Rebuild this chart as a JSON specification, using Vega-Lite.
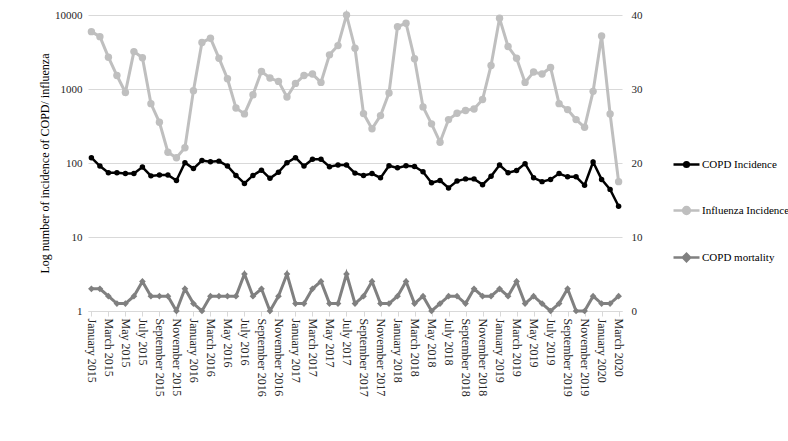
{
  "$schema": "https://vega.github.io/schema/vega-lite/v6.json",
  "width": 534,
  "height": 296,
  "autosize": "none",
  "padding": {"left": 88, "top": 15, "right": 166, "bottom": 130},
  "background": "white",
  "config": {
    "font": "Liberation Serif",
    "view": {"stroke": null},
    "legend": {"labelFont": "Liberation Serif", "labelFontSize": 11, "labelColor": "#000000"},
    "text": {"font": "Liberation Serif"}
  },
  "data": {"values": [
    {"month": "January 2015", "copd": 118, "influenza": 5960, "mortality": 3},
    {"month": "February 2015", "copd": 91, "influenza": 5100, "mortality": 3},
    {"month": "March 2015", "copd": 74, "influenza": 2690, "mortality": 2},
    {"month": "April 2015", "copd": 74, "influenza": 1520, "mortality": 1},
    {"month": "May 2015", "copd": 72, "influenza": 900, "mortality": 1},
    {"month": "June 2015", "copd": 72, "influenza": 3200, "mortality": 2},
    {"month": "July 2015", "copd": 88, "influenza": 2650, "mortality": 4},
    {"month": "August 2015", "copd": 67, "influenza": 634, "mortality": 2},
    {"month": "September 2015", "copd": 69, "influenza": 355, "mortality": 2},
    {"month": "October 2015", "copd": 69, "influenza": 140, "mortality": 2},
    {"month": "November 2015", "copd": 58, "influenza": 118, "mortality": 0},
    {"month": "December 2015", "copd": 101, "influenza": 161, "mortality": 3},
    {"month": "January 2016", "copd": 84, "influenza": 950, "mortality": 1},
    {"month": "February 2016", "copd": 108, "influenza": 4240, "mortality": 0},
    {"month": "March 2016", "copd": 104, "influenza": 4860, "mortality": 2},
    {"month": "April 2016", "copd": 106, "influenza": 2610, "mortality": 2},
    {"month": "May 2016", "copd": 91, "influenza": 1376, "mortality": 2},
    {"month": "June 2016", "copd": 68, "influenza": 555, "mortality": 2},
    {"month": "July 2016", "copd": 53, "influenza": 461, "mortality": 5},
    {"month": "August 2016", "copd": 68, "influenza": 838, "mortality": 2},
    {"month": "September 2016", "copd": 80, "influenza": 1725, "mortality": 3},
    {"month": "October 2016", "copd": 62, "influenza": 1406, "mortality": 0},
    {"month": "November 2016", "copd": 75, "influenza": 1267, "mortality": 2},
    {"month": "December 2016", "copd": 101, "influenza": 780, "mortality": 5},
    {"month": "January 2017", "copd": 118, "influenza": 1190, "mortality": 1},
    {"month": "February 2017", "copd": 91, "influenza": 1520, "mortality": 1},
    {"month": "March 2017", "copd": 112, "influenza": 1592, "mortality": 3},
    {"month": "April 2017", "copd": 112, "influenza": 1228, "mortality": 4},
    {"month": "May 2017", "copd": 89, "influenza": 2895, "mortality": 1},
    {"month": "June 2017", "copd": 94, "influenza": 3860, "mortality": 1},
    {"month": "July 2017", "copd": 94, "influenza": 10000, "mortality": 5},
    {"month": "August 2017", "copd": 73, "influenza": 3560, "mortality": 1},
    {"month": "September 2017", "copd": 68, "influenza": 465, "mortality": 2},
    {"month": "October 2017", "copd": 72, "influenza": 290, "mortality": 4},
    {"month": "November 2017", "copd": 63, "influenza": 437, "mortality": 1},
    {"month": "December 2017", "copd": 92, "influenza": 884, "mortality": 1},
    {"month": "January 2018", "copd": 86, "influenza": 6960, "mortality": 2},
    {"month": "February 2018", "copd": 92, "influenza": 7730, "mortality": 4},
    {"month": "March 2018", "copd": 90, "influenza": 2560, "mortality": 1},
    {"month": "April 2018", "copd": 76, "influenza": 573, "mortality": 2},
    {"month": "May 2018", "copd": 54, "influenza": 338, "mortality": 0},
    {"month": "June 2018", "copd": 58, "influenza": 191, "mortality": 1},
    {"month": "July 2018", "copd": 46, "influenza": 386, "mortality": 2},
    {"month": "August 2018", "copd": 57, "influenza": 470, "mortality": 2},
    {"month": "September 2018", "copd": 61, "influenza": 511, "mortality": 1},
    {"month": "October 2018", "copd": 61, "influenza": 538, "mortality": 3},
    {"month": "November 2018", "copd": 51, "influenza": 720, "mortality": 2},
    {"month": "December 2018", "copd": 66, "influenza": 2080, "mortality": 2},
    {"month": "January 2019", "copd": 94, "influenza": 9020, "mortality": 3},
    {"month": "February 2019", "copd": 74, "influenza": 3750, "mortality": 2},
    {"month": "March 2019", "copd": 79, "influenza": 2610, "mortality": 4},
    {"month": "April 2019", "copd": 98, "influenza": 1228, "mortality": 1},
    {"month": "May 2019", "copd": 63, "influenza": 1694, "mortality": 2},
    {"month": "June 2019", "copd": 56, "influenza": 1592, "mortality": 1},
    {"month": "July 2019", "copd": 60, "influenza": 1955, "mortality": 0},
    {"month": "August 2019", "copd": 72, "influenza": 634, "mortality": 1},
    {"month": "September 2019", "copd": 65, "influenza": 527, "mortality": 3},
    {"month": "October 2019", "copd": 65, "influenza": 386, "mortality": 0},
    {"month": "November 2019", "copd": 50, "influenza": 304, "mortality": 0},
    {"month": "December 2019", "copd": 103, "influenza": 929, "mortality": 2},
    {"month": "January 2020", "copd": 60, "influenza": 5215, "mortality": 1},
    {"month": "February 2020", "copd": 44, "influenza": 461, "mortality": 1},
    {"month": "March 2020", "copd": 26, "influenza": 56, "mortality": 2}
  ]},
  "encoding": {
    "x": {
      "field": "month", "type": "ordinal", "sort": null,
      "scale": {"type": "point", "padding": 0.4},
      "axis": {
        "title": null,
        "values": ["January 2015","March 2015","May 2015","July 2015","September 2015","November 2015",
                   "January 2016","March 2016","May 2016","July 2016","September 2016","November 2016",
                   "January 2017","March 2017","May 2017","July 2017","September 2017","November 2017",
                   "January 2018","March 2018","May 2018","July 2018","September 2018","November 2018",
                   "January 2019","March 2019","May 2019","July 2019","September 2019","November 2019",
                   "January 2020","March 2020"],
        "labelAngle": 90, "labelAlign": "left", "labelBaseline": "middle",
        "labelFontSize": 12, "labelColor": "#262626", "labelPadding": 2,
        "labelOverlap": false, "labelFont": "Liberation Serif",
        "domainColor": "#d9d9d9", "tickColor": "#d9d9d9", "tickSize": 5, "grid": false
      }
    }
  },
  "layer": [
    {
      "layer": [
        {
          "mark": {"type": "line", "strokeWidth": 3, "point": {"filled": true, "size": 55}},
          "encoding": {
            "y": {
              "field": "influenza", "type": "quantitative",
              "scale": {"type": "log", "domain": [1, 10000], "nice": false},
              "axis": {
                "title": "Log number of incidence of COPD/ influenza",
                "values": [1, 10, 100, 1000, 10000], "format": "d",
                "domain": false, "ticks": false, "grid": true, "gridColor": "#d9d9d9",
                "labelFontSize": 11, "labelColor": "#262626", "labelPadding": 6, "labelFont": "Liberation Serif",
                "titleFont": "Liberation Serif", "titleFontSize": 12, "titleFontWeight": "normal",
                "titleColor": "#000000", "titlePadding": 3
              }
            },
            "color": {
              "datum": "Influenza Incidence", "type": "nominal",
              "scale": {"domain": ["COPD Incidence", "Influenza Incidence", "COPD mortality"], "range": ["#000000", "#bfbfbf", "#808080"]},
              "legend": {
                "orient": "none", "legendX": 584, "legendY": 135, "title": null,
                "padding": 0, "rowPadding": 24, "labelOffset": 1,
                "symbolType": "M-1,0L1,0", "symbolSize": 676, "symbolStrokeWidth": 2.5,
                "labelFont": "Liberation Serif", "labelFontSize": 11, "labelColor": "#000000",
                "encode": {
                  "labels": {
                    "update": {
                      "font": {"value": "Liberation Serif"}
                    }
                  },
                  "symbols": {
                    "update": {
                      "shape": {"signal": "datum.value === 'COPD mortality' ? 'M-1,0L1,0M-0.28,0L0,-0.28L0.28,0L0,0.28Z' : (datum.value === 'COPD Incidence' ? 'M-1,0L1,0M-0.18,0A0.18,0.18,0,1,0,0.18,0A0.18,0.18,0,1,0,-0.18,0Z' : 'M-1,0L1,0M-0.26,0A0.26,0.26,0,1,0,0.26,0A0.26,0.26,0,1,0,-0.26,0Z')"},
                      "fill": {"signal": "scale('color', datum.value)"},
                      "stroke": {"signal": "scale('color', datum.value)"},
                      "opacity": {"value": 1}
                    }
                  }
                }
              }
            }
          }
        },
        {
          "mark": {"type": "line", "strokeWidth": 2.5, "point": {"filled": true, "size": 30}},
          "encoding": {
            "y": {
              "field": "copd", "type": "quantitative",
              "scale": {"type": "log", "domain": [1, 10000], "nice": false},
              "axis": {
                "title": "Log number of incidence of COPD/ influenza",
                "values": [1, 10, 100, 1000, 10000], "format": "d",
                "domain": false, "ticks": false, "grid": true, "gridColor": "#d9d9d9",
                "labelFontSize": 11, "labelColor": "#262626", "labelPadding": 6, "labelFont": "Liberation Serif",
                "titleFont": "Liberation Serif", "titleFontSize": 12, "titleFontWeight": "normal",
                "titleColor": "#000000", "titlePadding": 3
              }
            },
            "color": {"datum": "COPD Incidence", "type": "nominal"}
          }
        }
      ]
    },
    {
      "mark": {"type": "line", "strokeWidth": 3, "point": {"filled": true, "shape": "diamond", "size": 45}},
      "encoding": {
        "y": {
          "field": "mortality", "type": "quantitative",
          "scale": {"domain": [0, 40], "nice": false},
          "axis": {
            "orient": "right", "title": null, "values": [0, 10, 20, 30, 40],
            "domain": false, "ticks": false, "grid": false,
            "labelFontSize": 11, "labelColor": "#262626", "labelPadding": 9, "labelFont": "Liberation Serif"
          }
        },
        "color": {"datum": "COPD mortality", "type": "nominal"}
      }
    }
  ],
  "resolve": {"scale": {"y": "independent"}}
}
